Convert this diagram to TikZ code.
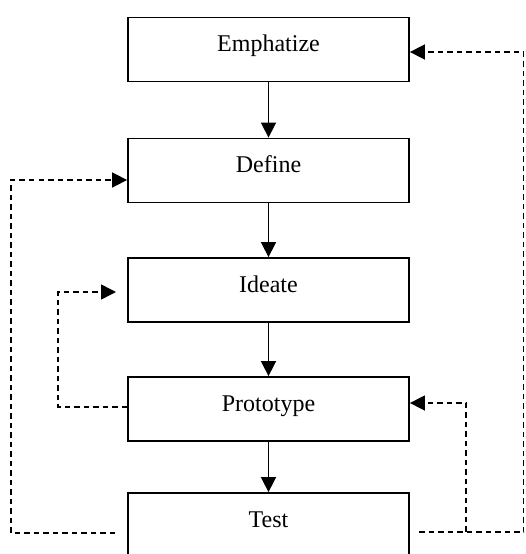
\documentclass[tikz,border=0pt]{standalone}
\usepackage{fontspec}
\setmainfont{Liberation Serif}
\usetikzlibrary{arrows.meta}
\begin{document}
\begin{tikzpicture}[x=1pt,y=-1pt,
  stepbox/.style={draw, line width=1.8pt, minimum width=281pt, minimum height=64pt, inner sep=0pt},
  lbl/.style={font=\fontsize{24}{28}\selectfont, inner sep=0pt, anchor=base},
  flow/.style={line width=1.6pt, -{Triangle[length=15pt,width=15pt]}},
  loopline/.style={line width=1.6pt, dash pattern=on 5.5pt off 4pt, -{Triangle[length=15pt,width=15pt]}}]
\useasboundingbox (0,0) rectangle (525,554);
% boxes
\node[stepbox] (E) at (268.5,49.5) {};
\node[stepbox] (D) at (268.5,170.5) {};
\node[stepbox] (I) at (268.5,290) {};
\node[stepbox] (P) at (268.5,409) {};
\node[stepbox] (T) at (268.5,525) {};
% labels
\node[lbl] (tE) at ([yshift=-2pt]E.center) {Emphatize};
\node[lbl] (tD) at ([yshift=-2pt]D.center) {Define};
\node[lbl] (tI) at ([yshift=-2pt]I.center) {Ideate};
\node[lbl] (tP) at ([yshift=-2pt]P.center) {Prototype};
\node[lbl] (tT) at ([yshift=-2pt]T.center) {Test};
% main flow
\draw[flow] (E) -- (D);
\draw[flow] (D) -- (I);
\draw[flow] (I) -- (P);
\draw[flow] (P) -- (T);
% Test -> Define
\coordinate (a0) at (115,533);
\coordinate (a1) at (11,533);
\coordinate (a2) at (11,180);
\draw[loopline] (a0) -- (a1) -- (a2) -- ([yshift=-9.5pt]D.west);
% Prototype -> Ideate
\coordinate (b0) at (58,407);
\coordinate (b1) at (58,292);
\coordinate (b2) at (116,292);
\draw[loopline] ([yshift=2pt]P.west) -- (b0) -- (b1) -- (b2);
% Test -> Prototype
\coordinate (c0) at (419,532);
\coordinate (c1) at (466,532);
\coordinate (c2) at (466,403);
\draw[loopline] (c0) -- (c1) -- (c2) -- ([yshift=6pt]P.east);
% Test -> Emphatize
\coordinate (d1) at (523.5,532);
\coordinate (d2) at (523.5,52);
\draw[loopline] (c0) -- (d1) -- (d2) -- ([yshift=-2.5pt]E.east);
\end{tikzpicture}
\end{document}
